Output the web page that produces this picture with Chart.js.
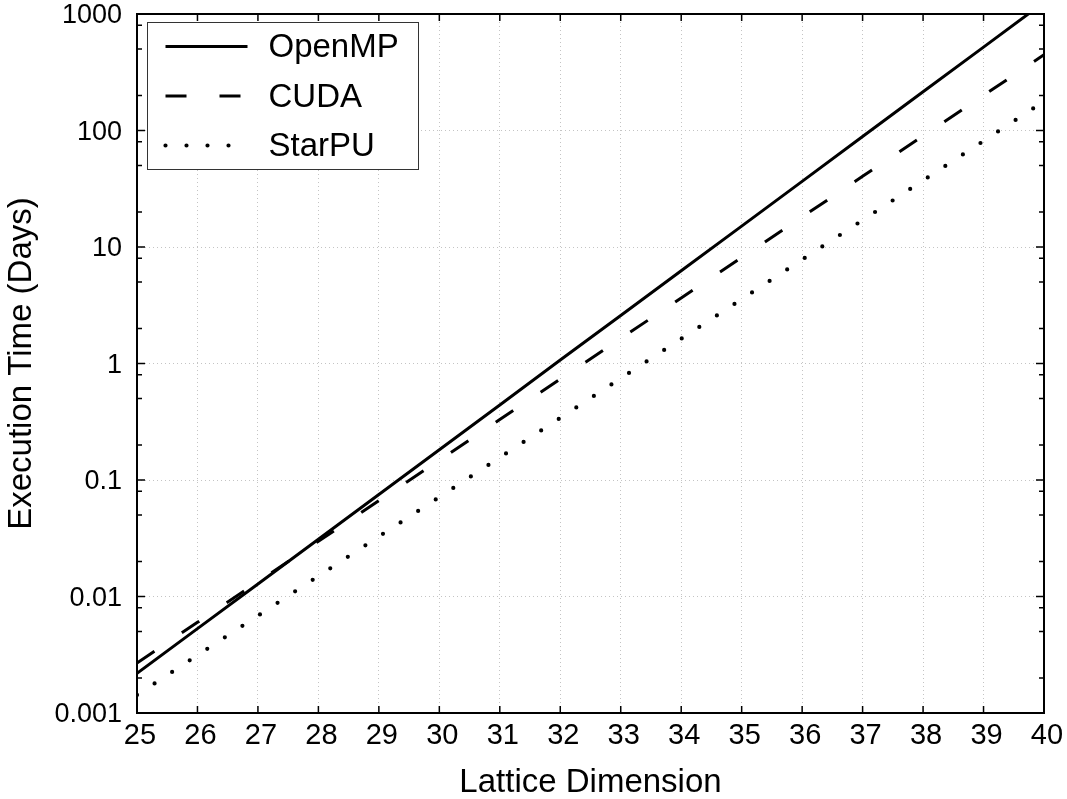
<!DOCTYPE html>
<html><head><meta charset="utf-8">
<script src="https://cdn.jsdelivr.net/npm/chart.js@4/dist/chart.umd.min.js"></script>
<style>html,body{margin:0;padding:0;background:#fff;}#wrap{width:1067px;height:799px;}</style>
</head><body><div id="wrap"><canvas id="c" width="1067" height="799"></canvas></div>
<script>
const dims = [25,26,27,28,29,30,31,32,33,34,35,36,37,38,39,40];
const openmp = [0.00219,0.0053,0.0128,0.0310,0.0752,0.182,0.441,1.07,2.58,6.25,15.1,36.6,88.7,215,520,1259];
const cuda = [0.00269,0.0060,0.0134,0.0298,0.0664,0.148,0.330,0.735,1.64,3.65,8.13,18.1,40.4,90,200,447];
const starpu = [0.00143,0.00313,0.00684,0.01496,0.0327,0.0714,0.156,0.341,0.746,1.63,3.56,7.79,17.0,37.2,81.3,178];
const seriesNames = ['OpenMP','CUDA','StarPU'];
const xTickValues = [25,26,27,28,29,30,31,32,33,34,35,36,37,38,39,40];
const yTickValues = [0.001,0.01,0.1,1,10,100,1000];
const yTickLabels = ['0.001','0.01','0.1','1','10','100','1000'];
const yMinorMultipliers = [2,5,8];
const xTitle = 'Lattice Dimension';
const yTitle = 'Execution Time (Days)';

const FAM = '"Liberation Sans", Arial, Helvetica, sans-serif';
const toPts = vals => dims.map((d,i)=>({x:d,y:vals[i]}));

const framePlugin = {
  id:'frame',
  afterDatasetsDraw(chart){
    const {ctx, chartArea:a, scales:{x,y}} = chart;
    ctx.save();
    ctx.strokeStyle='#000';
    ctx.lineWidth=1.5;
    ctx.beginPath();
    xTickValues.forEach(v=>{
      const px = x.getPixelForValue(v);
      ctx.moveTo(px,a.bottom); ctx.lineTo(px,a.bottom-7);
      ctx.moveTo(px,a.top); ctx.lineTo(px,a.top+7);
    });
    yTickValues.forEach(v=>{
      const py = y.getPixelForValue(v);
      ctx.moveTo(a.left,py); ctx.lineTo(a.left+8,py);
      ctx.moveTo(a.right,py); ctx.lineTo(a.right-8,py);
    });
    yTickValues.slice(0,-1).forEach(dec=>{
      yMinorMultipliers.forEach(m=>{
        const py = y.getPixelForValue(dec*m);
        ctx.moveTo(a.left,py); ctx.lineTo(a.left+5,py);
        ctx.moveTo(a.right,py); ctx.lineTo(a.right-5,py);
      });
    });
    ctx.stroke();
    ctx.lineWidth=2;
    ctx.strokeRect(a.left,a.top,a.right-a.left,a.bottom-a.top);
    ctx.restore();
  }
};

const legendPlugin = {
  id:'boxLegend',
  afterDraw(chart){
    const {ctx, chartArea:a} = chart;
    const bx = a.left+10.5, by = a.top+8.5, bw = 271, bh = 147;
    ctx.save();
    ctx.fillStyle='#fff';
    ctx.fillRect(bx,by,bw,bh);
    ctx.strokeStyle='#333'; ctx.lineWidth=1;
    ctx.strokeRect(bx,by,bw,bh);
    chart.data.datasets.forEach((ds,i)=>{
      const ry = by + 24 + i*49.5;
      ctx.save();
      ctx.strokeStyle = ds.borderColor;
      ctx.lineWidth = ds.borderWidth;
      ctx.lineCap = ds.borderCapStyle || 'butt';
      ctx.setLineDash(ds.borderDash || []);
      ctx.beginPath();
      ctx.moveTo(bx+18, ry); ctx.lineTo(bx+18+82, ry);
      ctx.stroke();
      ctx.restore();
      ctx.fillStyle='#000';
      ctx.font = '33px '+FAM;
      ctx.textBaseline='middle';
      ctx.textAlign='left';
      ctx.fillText(ds.label, bx+121, ry+1.5);
    });
    ctx.restore();
  }
};

new Chart(document.getElementById('c'), {
  type:'line',
  data:{
    datasets:[
      {label:seriesNames[0], data:toPts(openmp), borderColor:'#000', borderWidth:3, pointRadius:0, tension:0, fill:false},
      {label:seriesNames[1], data:toPts(cuda), borderColor:'#000', borderWidth:3, borderDash:[21,33], pointRadius:0, tension:0, fill:false},
      {label:seriesNames[2], data:toPts(starpu), borderColor:'#000', borderWidth:4.2, borderDash:[0,21], borderCapStyle:'round', pointRadius:0, tension:0, fill:false}
    ]
  },
  options:{
    responsive:false,
    animation:false,
    devicePixelRatio:1,
    layout:{padding:{left:0,top:14,right:23,bottom:0}},
    plugins:{legend:{display:false}, tooltip:{enabled:false}},
    scales:{
      x:{
        type:'linear', min:25, max:40,
        afterBuildTicks:s=>{ s.ticks = xTickValues.map(v=>({value:v})); },
        afterFit:s=>{ s.height = 86; s.paddingLeft = 0; s.paddingRight = 0; },
        ticks:{font:{family:FAM,size:29}, color:'#000', padding:6, labelOffset:3, maxRotation:0, autoSkip:false, callback:v=>String(v)},
        grid:{color:'#c4c4c4', lineWidth:1, drawTicks:false},
        border:{display:false, dash:[1,3]},
        title:{display:true, text:xTitle, color:'#000', font:{family:FAM,size:33,lineHeight:1}, padding:{top:0,bottom:0}}
      },
      y:{
        type:'logarithmic', min:0.001, max:1000,
        afterBuildTicks:s=>{ s.ticks = yTickValues.map(v=>({value:v})); },
        afterFit:s=>{ s.width = 137; s.paddingTop = 0; s.paddingBottom = 0; },
        ticks:{font:{family:FAM,size:27}, color:'#000', padding:15, labelOffset:2, autoSkip:false, callback:(v,i)=>yTickLabels[i]},
        grid:{color:'#c4c4c4', lineWidth:1, drawTicks:false},
        border:{display:false, dash:[1,3]},
        title:{display:true, text:yTitle, color:'#000', font:{family:FAM,size:33,lineHeight:1}, padding:{top:5,bottom:0}}
      }
    }
  },
  plugins:[framePlugin, legendPlugin]
});
</script>
</body></html>
